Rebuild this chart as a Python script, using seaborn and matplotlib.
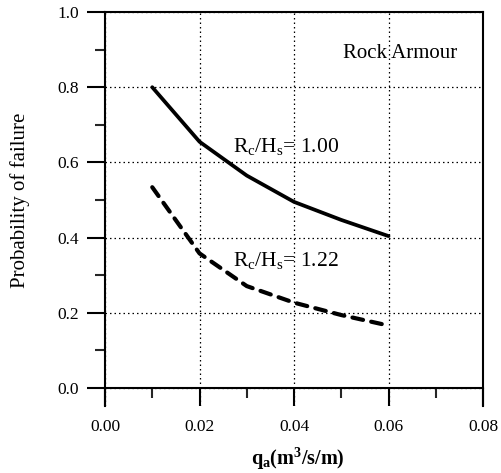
import matplotlib
matplotlib.use('Agg')
import matplotlib.pyplot as plt
import seaborn as sns
import pandas as pd
from matplotlib.ticker import MultipleLocator, FormatStrFormatter

# data
q_a = [0.01, 0.02, 0.03, 0.04, 0.05, 0.06]
pf_100 = [0.80, 0.655, 0.565, 0.495, 0.447, 0.404]
pf_122 = [0.534, 0.358, 0.271, 0.227, 0.194, 0.166]

sns.set_style('white')
plt.rcParams['font.family'] = ['Liberation Serif', 'DejaVu Serif']
plt.rcParams['mathtext.fontset'] = 'custom'
plt.rcParams['mathtext.rm'] = 'Liberation Serif'
plt.rcParams['mathtext.it'] = 'Liberation Serif:italic'
plt.rcParams['mathtext.bf'] = 'Liberation Serif:bold'
plt.rcParams['text.color'] = 'black'
plt.rcParams['axes.labelcolor'] = 'black'

df1 = pd.DataFrame({'q': q_a, 'p': pf_100})
df2 = pd.DataFrame({'q': q_a, 'p': pf_122})

fig = plt.figure(figsize=(5.01, 4.73), dpi=100)
ax = fig.add_axes([0.2096, 0.1416, 0.7545, 0.833])

sns.lineplot(data=df1, x='q', y='p', ax=ax, color='black', linewidth=2.7)
sns.lineplot(data=df2, x='q', y='p', ax=ax, color='black', linewidth=3.0,
             linestyle=(0, (2.6, 2.0)), dash_capstyle='round')

ax.set_xlim(0, 0.08)
ax.set_ylim(-0.048, 1.0)

# x axis sits at y = 0, side spines run a bit lower
ax.spines['bottom'].set_position(('data', 0))
for s in ax.spines.values():
    s.set_color('black')
    s.set_linewidth(1.5)

ax.xaxis.set_major_locator(MultipleLocator(0.02))
ax.xaxis.set_minor_locator(MultipleLocator(0.01))
ax.yaxis.set_major_locator(MultipleLocator(0.2))
ax.yaxis.set_minor_locator(MultipleLocator(0.1))
ax.xaxis.set_major_formatter(FormatStrFormatter('%.2f'))
ax.yaxis.set_major_formatter(FormatStrFormatter('%.1f'))

ax.tick_params(axis='both', which='both', bottom=True, left=True, top=False, right=False)
ax.tick_params(axis='both', which='major', direction='out', length=13, width=1.5,
               labelsize=12.5, colors='black')
ax.tick_params(axis='both', which='minor', direction='out', length=7, width=1.5)
ax.tick_params(axis='x', which='major', pad=9)
ax.tick_params(axis='y', which='major', pad=6)

ax.grid(True, which='major', color='black', linestyle=(0, (1.2, 2.4)), linewidth=0.9)

ax.set_xlabel(r'q$_\mathbf{a}$(m$^\mathbf{3}$/s/m)', fontsize=14.5, fontweight='bold')
ax.set_ylabel('Probability of failure', fontsize=15)
ax.xaxis.set_label_coords(0.51, -0.1)
ax.yaxis.set_label_coords(-0.198, 0.523)

ax.text(0.0271, 0.628, r'R$_\mathrm{c}$/H$_\mathrm{s}$= 1.00', fontsize=15.5, va='baseline')
ax.text(0.0271, 0.324, r'R$_\mathrm{c}$/H$_\mathrm{s}$= 1.22', fontsize=15.5, va='baseline')
ax.text(0.0504, 0.877, 'Rock Armour', fontsize=15, va='baseline')

fig.savefig('out.png', dpi=100, facecolor='white')
